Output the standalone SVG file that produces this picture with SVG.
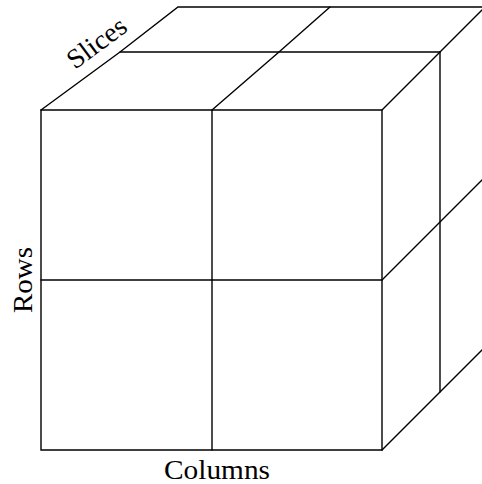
<svg xmlns="http://www.w3.org/2000/svg" width="482" height="484" viewBox="0 0 482 484">
<style>
.e{stroke:#000;stroke-width:1.4;fill:none;stroke-linecap:round}
.t{font-family:"Liberation Serif","DejaVu Serif",serif;font-size:27.5px;fill:#000}
</style>
<rect width="482" height="484" fill="#fff"/>
<g id="cube" class="e">
<path d="M41,110 H382 V450 H41 Z"/>
<path d="M212,110 V450 M41,280 H382"/>
<path d="M41,110 L120,52 L178,7 H482"/>
<path d="M120,52 H440"/>
<path d="M212,110 L279,52 L330,7"/>
<path d="M382,110 L440,52 L486,6"/>
<path d="M440,52 V392"/>
<path d="M382,280 L440,222 L484,178"/>
<path d="M382,450 L440,392 L484,348"/>
</g>
<g id="labels">
<text class="t" x="0" y="0" text-anchor="middle" transform="translate(102,50) rotate(-36.5)" textLength="67" lengthAdjust="spacingAndGlyphs">Slices</text>
<text class="t" x="0" y="0" text-anchor="middle" transform="translate(32,280) rotate(-90)" textLength="66" lengthAdjust="spacingAndGlyphs">Rows</text>
<text class="t" x="217" y="479" text-anchor="middle" textLength="106" lengthAdjust="spacingAndGlyphs">Columns</text>
</g>
</svg>
